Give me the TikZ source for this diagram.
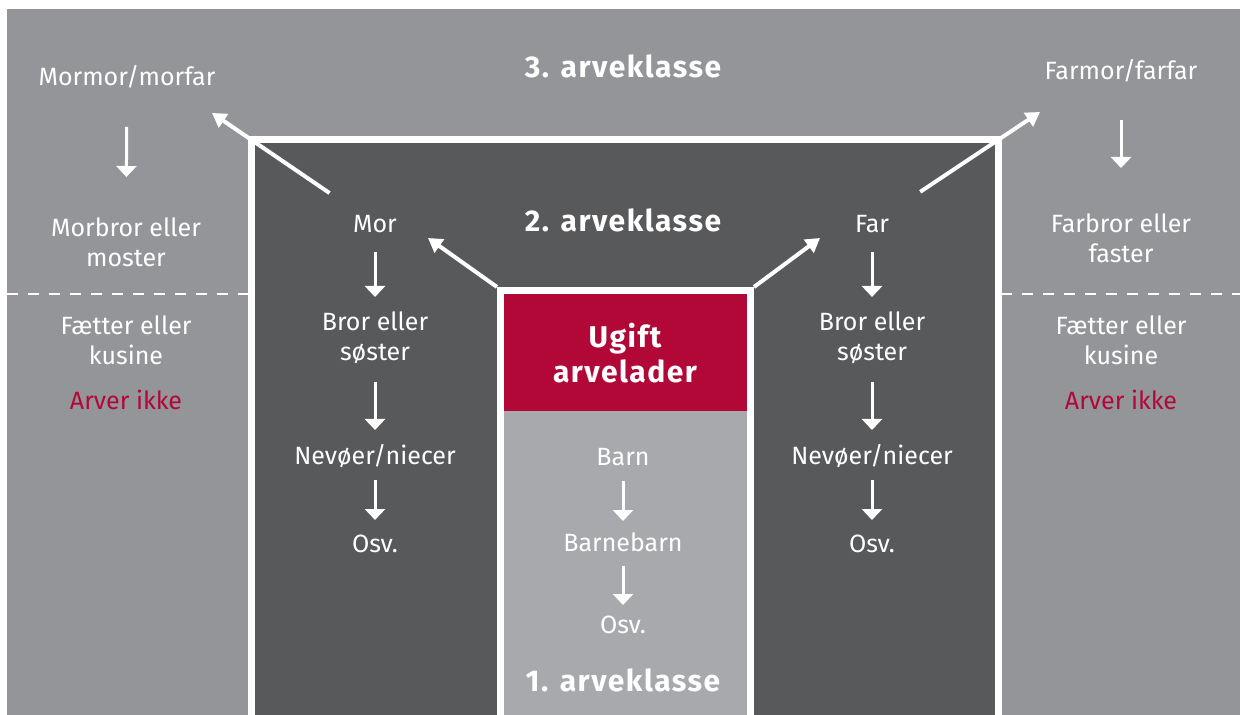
\documentclass[tikz,border=0pt]{standalone}
\usepackage{fontspec}
\setmainfont{Fira Sans}
\usetikzlibrary{arrows.meta}
\definecolor{ydergraa}{HTML}{939598}
\definecolor{morkgraa}{HTML}{58595B}
\definecolor{lysgraa}{HTML}{A7A9AC}
\definecolor{arverod}{HTML}{B20838}

\begin{document}
\begin{tikzpicture}[
x=0.5pt, y=-0.5pt,
tekst/.style={text=white, align=center, inner sep=0pt, font=\fontsize{12.5}{15}\selectfont},
klasse/.style={text=white, align=center, inner sep=0pt, font=\fontsize{15}{17.5}\selectfont\bfseries\addfontfeature{LetterSpace=5}},
pil/.style={draw=white, line width=1.5pt, -{Triangle[length=5.5pt,width=10pt]}},
skraa/.style={draw=white, line width=2pt, -{Triangle[length=7pt,width=8pt]}}]

\useasboundingbox (0,0) rectangle (1240,715);
\clip (0,0) rectangle (1240,715);
\fill[white] (0,0) rectangle (1240,715);
\fill[ydergraa] (7,9) rectangle (1240,715);
\draw[white, line width=1pt, dash pattern=on 5.25pt off 5.25pt] (7,294) -- (248,294);
\draw[white, line width=1pt, dash pattern=on 5.25pt off 5.25pt] (1001,294) -- (1240,294);
\draw[white, line width=3.5pt, fill=morkgraa] (251.5,730) -- (251.5,139.5) -- (998.5,139.5) -- (998.5,730);
\draw[white, line width=3.5pt, fill=lysgraa] (500.5,730) -- (500.5,290.5) -- (750.5,290.5) -- (750.5,730);
\fill[arverod] (504,294) rectangle (747,411);

\coordinate (k1venstre) at (497,287);
\coordinate (k1hoejre) at (754,287);
\coordinate (tipmor) at (428,238);
\coordinate (tipfar) at (820,238);
\coordinate (tipmormor) at (212,113);
\coordinate (tipfarmor) at (1040,112);

\node[klasse] (k3) at (623,66) {3. arveklasse};
\node[klasse] (k2) at (623,220) {2. arveklasse};
\node[klasse] (k1) at (623,680) {1. arveklasse};
\node[klasse] (ugift) at (625,353) {Ugift\\arvelader};

\node[tekst] (mormor) at (127,77) {Mormor/morfar};
\node[tekst] (morbror) at (126,242) {Morbror eller\\moster};
\node[tekst] (faetterv) at (126,340) {Fætter eller\\kusine};
\node[tekst, text=arverod] (arverv) at (126,400) {Arver ikke};

\node[tekst] (farmor) at (1121,71) {Farmor/farfar};
\node[tekst] (farbror) at (1121,238) {Farbror eller\\faster};
\node[tekst] (faetterh) at (1121,340) {Fætter eller\\kusine};
\node[tekst, text=arverod] (arverh) at (1121,400) {Arver ikke};

\node[tekst] (mor) at (375,224) {Mor};
\node[tekst] (brorv) at (375,338) {Bror eller\\søster};
\node[tekst] (nevoev) at (375,456) {Nevøer/niecer};
\node[tekst] (osvv) at (375,544) {Osv.};

\node[tekst] (far) at (872,224) {Far};
\node[tekst] (brorh) at (872,338) {Bror eller\\søster};
\node[tekst] (nevoeh) at (872,456) {Nevøer/niecer};
\node[tekst] (osvh) at (872,544) {Osv.};

\node[tekst] (barn) at (623,457) {Barn};
\node[tekst] (barnebarn) at (623,542) {Barnebarn};
\node[tekst] (osvm) at (623,625) {Osv.};

\draw[pil, shorten <=25pt, shorten >=32.5pt] (mormor.center) -- (morbror.center);
\draw[pil, shorten <=24.5pt, shorten >=35pt] (farmor.center) -- (farbror.center);
\draw[pil, shorten <=14pt, shorten >=20.5pt] (mor.center) -- (brorv.center);
\draw[pil, shorten <=22pt, shorten >=13pt] (brorv.center) -- (nevoev.center);
\draw[pil, shorten <=12pt, shorten >=12pt] (nevoev.center) -- (osvv.center);
\draw[pil, shorten <=14pt, shorten >=20.5pt] (far.center) -- (brorh.center);
\draw[pil, shorten <=22pt, shorten >=13pt] (brorh.center) -- (nevoeh.center);
\draw[pil, shorten <=12pt, shorten >=12pt] (nevoeh.center) -- (osvh.center);
\draw[pil, shorten <=12pt, shorten >=10.5pt] (barn.center) -- (barnebarn.center);
\draw[pil, shorten <=12pt, shorten >=10pt] (barnebarn.center) -- (osvm.center);

\draw[skraa, shorten <=27.5pt] (mor.center) -- (tipmormor);
\draw[skraa, shorten <=29pt] (far.center) -- (tipfarmor);
\draw[skraa] (k1venstre) -- (tipmor);
\draw[skraa] (k1hoejre) -- (tipfar);
\end{tikzpicture}
\end{document}
